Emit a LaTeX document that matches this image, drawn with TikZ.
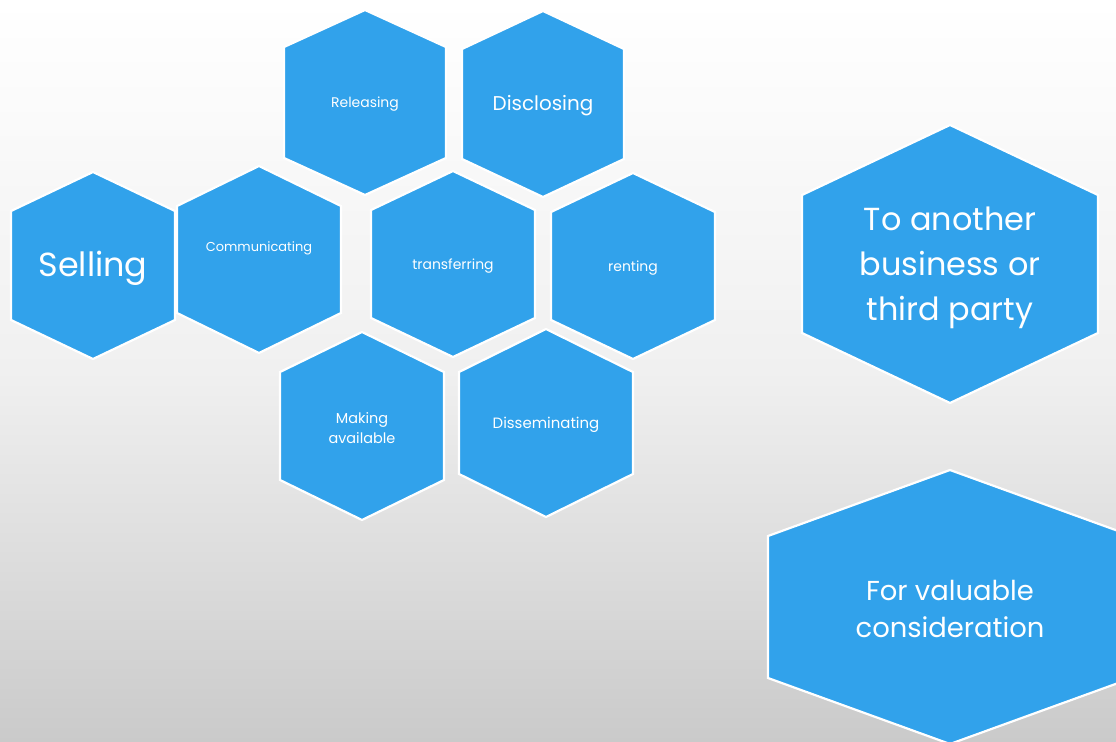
\documentclass[tikz,border=0pt]{standalone}
\usepackage{fontspec}
\setmainfont{Poppins}
\definecolor{hexblue}{RGB}{49,162,235}
\definecolor{bgbot}{RGB}{202,202,202}
\tikzset{
  hexfill/.style={fill=hexblue, draw=white, line width=2.2bp, line join=miter},
  hexlabel/.style={text=white, align=center, inner sep=0pt},
}
% \hexa{cx}{top}{halfwidth}{corner offset}{bottom}
\newcommand{\hexa}[5]{%
  \path[hexfill] (#1,#2) -- (#1+#3,#2+#4) -- (#1+#3,#5-#4) -- (#1,#5) -- (#1-#3,#5-#4) -- (#1-#3,#2+#4) -- cycle;}
\begin{document}
\begin{tikzpicture}[x=1bp,y=-1bp]
\useasboundingbox (0,0) rectangle (1116,742);
\clip (0,0) rectangle (1116,742);
\shade[top color=white, bottom color=bgbot, middle color={rgb,255:red,240;green,240;blue,240}] (0,0) rectangle (1116,742);

\hexa{365}{10}{81}{37}{195}
\hexa{543}{11}{81}{38}{197}
\hexa{93}{172}{82}{39}{359}
\hexa{259}{166}{82}{40}{353}
\hexa{453}{171}{82}{39}{357}
\hexa{633}{173}{82}{39}{359}
\hexa{362}{332}{82}{40}{520}
\hexa{546}{329}{87}{43}{517}
\hexa{950}{125}{148}{70}{403}
\hexa{950}{470}{182}{66}{744}

\node[hexlabel, font=\fontsize{14}{16}\selectfont] (rel) at (365,104) {Releasing};
\node[hexlabel, font=\fontsize{20}{24}\selectfont] (dis) at (543,106) {Disclosing};
\node[hexlabel, font=\fontsize{33.5}{38}\selectfont] (sel) at (93,268.5) {Selling};
\node[hexlabel, font=\fontsize{13}{15}\selectfont] (com) at (259,248) {Communicating};
\node[hexlabel, font=\fontsize{14}{17}\selectfont] (tra) at (453,266) {transferring};
\node[hexlabel, font=\fontsize{14}{17}\selectfont] (ren) at (633,268) {renting};
\node[hexlabel, font=\fontsize{14.5}{20}\selectfont] (mak) at (362,428) {Making\\available};
\node[hexlabel, font=\fontsize{15}{18}\selectfont] (dsm) at (546,425) {Disseminating};
\node[hexlabel, font=\fontsize{32}{45}\selectfont] (ano) at (950,268) {To another\\business or\\third party};
\node[hexlabel, font=\fontsize{27.5}{38}\selectfont] (val) at (950,609) {For valuable\\consideration};
\end{tikzpicture}
\end{document}
